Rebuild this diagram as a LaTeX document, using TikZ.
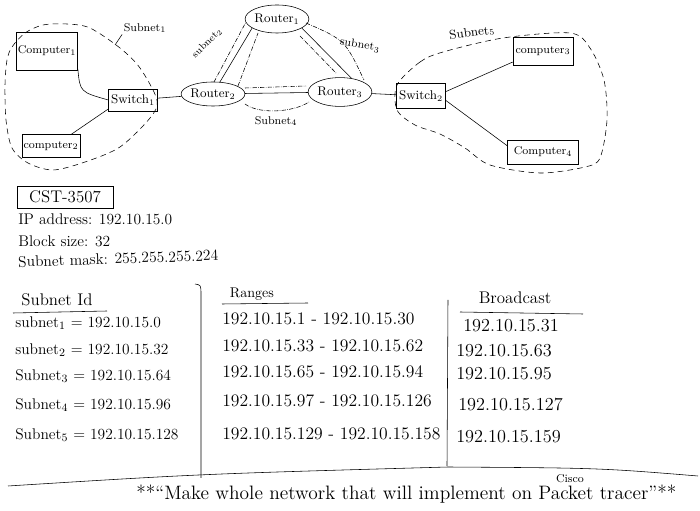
\documentclass[tikz,border=0pt]{standalone}
\usepackage{amssymb,amsmath}
\usetikzlibrary{shapes.geometric,positioning}

\begin{document}
\begin{tikzpicture}[x=0.025cm,y=-0.025cm,
	comp/.style={draw,thin,minimum width=1.5cm,minimum height=0.65cm,inner sep=1pt,font=\footnotesize},
	swbox/.style={draw,thin,minimum width=1.22cm,minimum height=0.55cm,inner sep=1pt,font=\small},
	router/.style={draw,thin,ellipse,minimum width=1.55cm,minimum height=0.6cm,inner sep=0pt,font=\small},
	subnetline/.style={thin,dash pattern=on 4pt off 3pt},
	linkband/.style={thin,densely dash dot},
	hand/.style={font=\fontsize{11}{13}\selectfont,anchor=west,inner sep=0pt},
	head/.style={font=\large,inner sep=0pt},
	tag/.style={font=\footnotesize,inner sep=1pt}]
				\useasboundingbox (0,0) rectangle (700,511);
				
				% network
				\node[comp,minimum height=0.95cm] (comp1) at (47,51) {Computer$_1$};
				\node[comp,minimum width=1.43cm,minimum height=0.58cm] (comp2) at (51,146) {computer$_2$};
				\node[swbox] (sw1) at (133,100) {Switch$_1$};
				\node[router] (rt2) at (213,94) {Router$_2$};
				\node[router,minimum width=1.43cm,minimum height=0.7cm] (rt1) at (277,19) {Router$_1$};
				\node[router,minimum height=0.72cm] (rt3) at (340,92) {Router$_3$};
				\node[swbox,minimum height=0.62cm] (sw2) at (421,96) {Switch$_2$};
				\node[comp,minimum height=0.7cm] (comp3) at (543,51) {computer$_3$};
				\node[comp,minimum width=1.78cm,minimum height=0.6cm] (comp4) at (543,152) {Computer$_4$};
				
				\draw[thin] (comp1.-30) .. controls (80,92) .. (sw1.west);
				\draw[thin] (comp2.30) -- (sw1.200);
				\draw[thin] (sw1) -- (rt2);
				\draw[thin] (rt2.60) -- (rt1.200);
				\draw[thin] (rt1.-20) -- (rt3.50);
				\draw[thin] (rt2) -- (rt3);
				\draw[thin] (rt3) -- (sw2);
				\draw[thin] (sw2.10) -- (comp3.200);
				\draw[thin] (sw2.-10) -- (comp4.170);
				
				% subnets
				\draw[subnetline] plot[smooth cycle] coordinates {(12,47) (25,33) (43,25) (67,24) (90,28) (120,48) (140,68) (157,100) (150,118) (120,147) (85,162) (53,170) (28,163) (12,148) (6,120) (5,85) (7,60)};
				\draw[subnetline] plot[smooth cycle] coordinates {(397,85) (420,62) (443,52) (503,38) (570,33) (590,48) (604,80) (607,120) (600,158) (585,167) (540,173) (490,165) (465,148) (440,134) (415,125) (397,110)};
				
				\draw[linkband] (214,82) -- (246,22);
				\draw[linkband] (238,86) -- (258,33);
				\draw[linkband] (306,23) .. controls (345,40) .. (364,80);
				\draw[linkband] (300,36) -- (337,74);
				\draw[linkband] (245,88) -- (306,86);
				\draw[linkband] (245,104) .. controls (258,114) and (292,113) .. (309,102);
				
				\node[tag] (net1) at (145,28) {Subnet$_1$};
				\draw[thin] (net1.south west) -- (115,45);
				\node[tag,font=\scriptsize,rotate=45] (net2) at (207,43) {subnet$_2$};
				\node[tag,rotate=-10] (net3) at (360,45) {subnet$_3$};
				\node[tag] (net4) at (276,121) {Subnet$_4$};
				\node[tag,font=\small,rotate=8] (net5) at (472,33) {Subnet$_5$};
				
				% given data
				\node[draw,thin,font=\large,minimum width=2.4cm,minimum height=0.5cm] (course) at (65,197) {CST-3507};
				\node[hand] (ip) at (18,219) {IP address: 192.10.15.0};
				\node[hand] (block) at (18,241) {Block size: 32};
				\node[hand,rotate=2] (mask) at (18,262) {Subnet mask: 255.255.255.224};
				
				% table
				\node[head] (hid) at (57,300) {Subnet Id};
				\draw[thin] (13,313) -- (107,311);
				\node[head,font=\normalsize] (hrange) at (252,294) {Ranges};
				\draw[thin] (222,304) -- (308,303);
				\node[head] (hbcast) at (515,298) {Broadcast};
				\draw[thin] (460,312) -- (583,314);
				
				\node[hand] (id1) at (15,323) {subnet$_1$ = 192.10.15.0};
				\node[hand] (id2) at (15,350) {subnet$_2$ = 192.10.15.32};
				\node[hand] (id3) at (15,376) {Subnet$_3$ = 192.10.15.64};
				\node[hand] (id4) at (15,405) {Subnet$_4$ = 192.10.15.96};
				\node[hand] (id5) at (15,435) {Subnet$_5$ = 192.10.15.128};
				
				\node[hand,font=\fontsize{12.5}{15}\selectfont] (rg1) at (222,319) {192.10.15.1 - 192.10.15.30};
				\node[hand,font=\fontsize{12.5}{15}\selectfont] (rg2) at (222,346) {192.10.15.33 - 192.10.15.62};
				\node[hand,font=\fontsize{12.5}{15}\selectfont] (rg3) at (222,372) {192.10.15.65 - 192.10.15.94};
				\node[hand,font=\fontsize{12.5}{15}\selectfont] (rg4) at (222,401) {192.10.15.97 - 192.10.15.126};
				\node[hand,font=\fontsize{12.5}{15}\selectfont] (rg5) at (222,434) {192.10.15.129 - 192.10.15.158};
				
				\node[hand,font=\fontsize{13}{15}\selectfont] (bc1) at (463,326) {192.10.15.31};
				\node[hand,font=\fontsize{13}{15}\selectfont] (bc2) at (456,351) {192.10.15.63};
				\node[hand,font=\fontsize{13}{15}\selectfont] (bc3) at (456,374) {192.10.15.95};
				\node[hand,font=\fontsize{13}{15}\selectfont] (bc4) at (458,405) {192.10.15.127};
				\node[hand,font=\fontsize{13}{15}\selectfont] (bc5) at (456,437) {192.10.15.159};
				
				\draw[thin] (195,284) .. controls (201,285) .. (201,295) -- (201,478);
				\draw[thin] (448,300) -- (447,466);
				\draw[thin] (8,486) .. controls (200,474) .. (448,467) .. controls (600,468) .. (698,476);
				
				% note
				\node[hand,font=\fontsize{13.8}{16}\selectfont] (note) at (136,494) {**``Make whole network that will implement on};
				\node[hand,font=\fontsize{13.8}{16}\selectfont,base right=4pt of note] (tool) {Packet tracer''**};
				\node[font=\footnotesize,inner sep=0pt] (cisco) at (570,479) {Cisco};
\end{tikzpicture}
\end{document}
